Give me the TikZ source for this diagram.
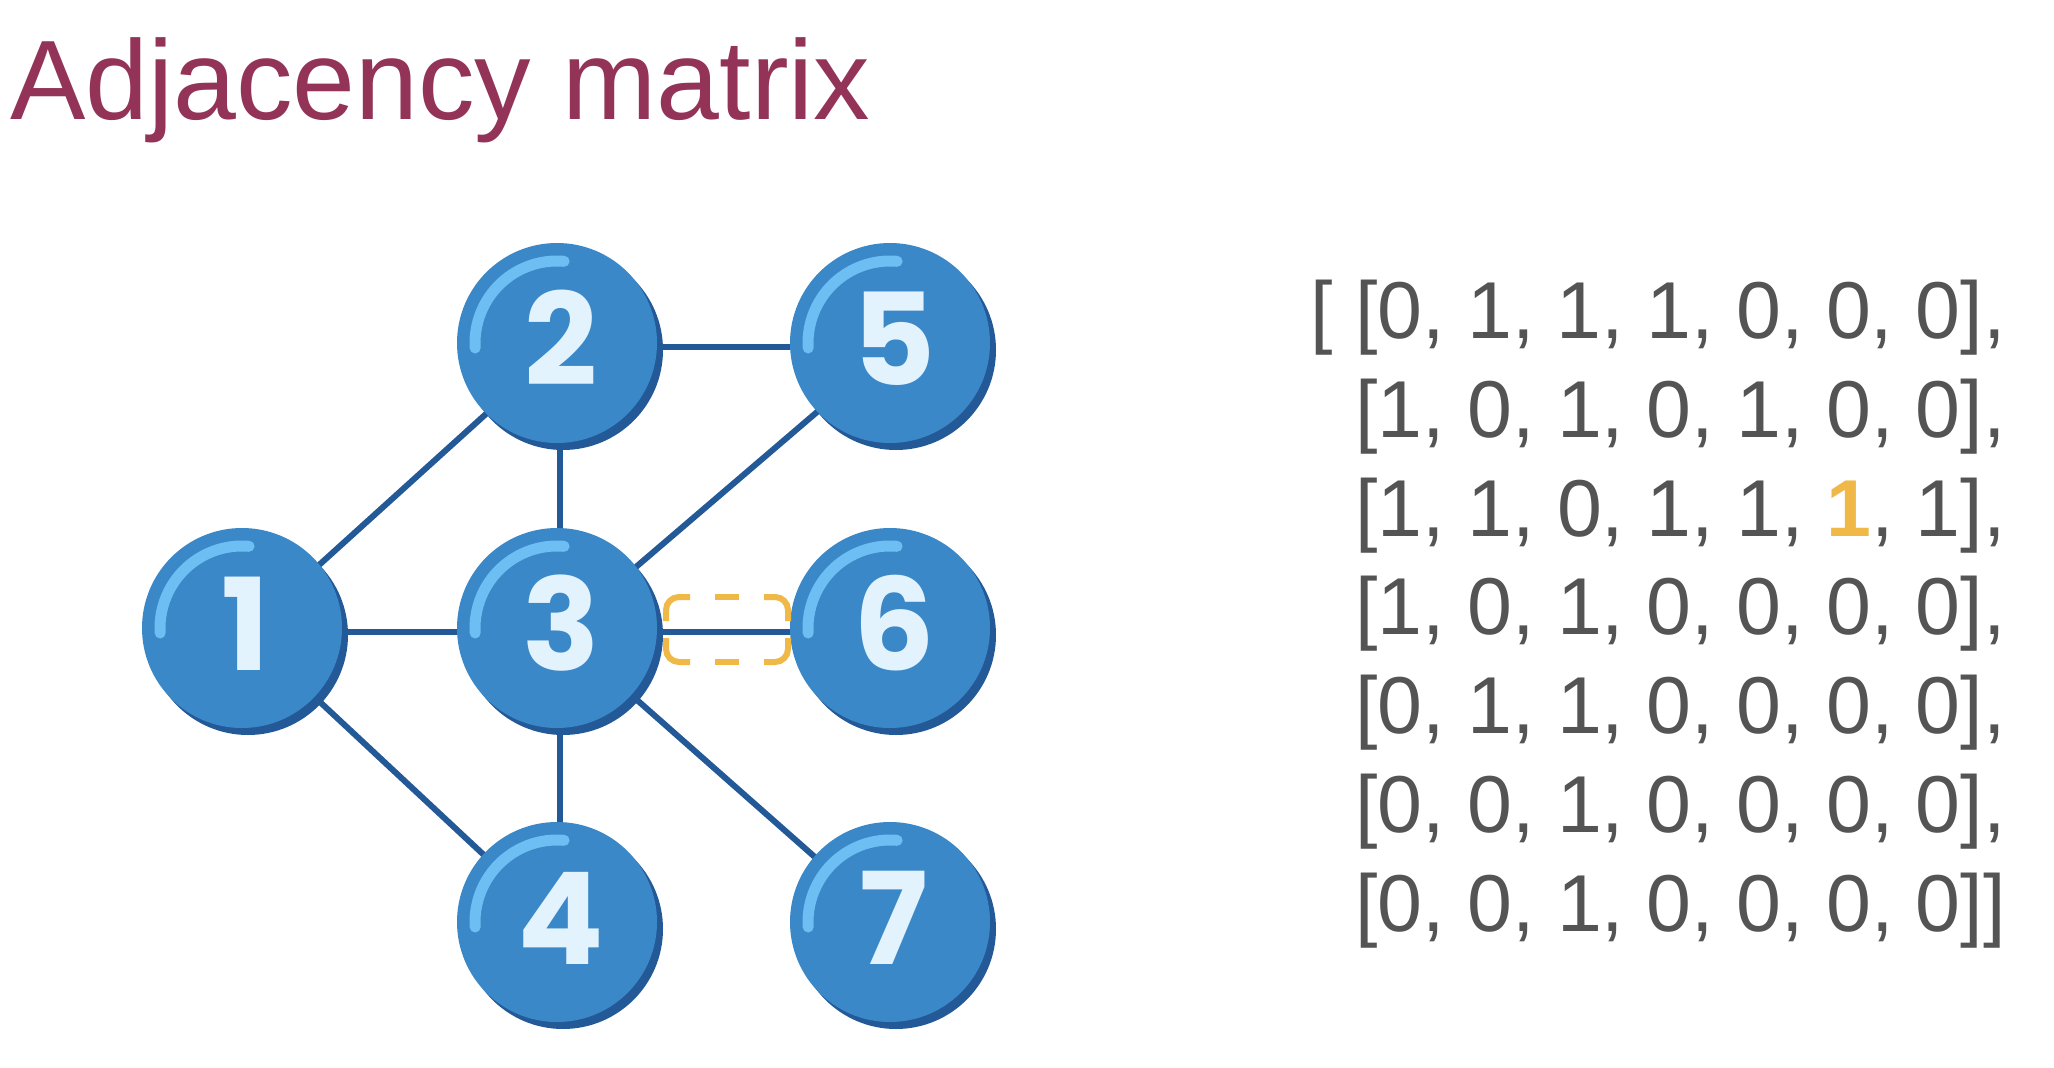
\documentclass[tikz,border=0pt]{standalone}
\usepackage{fontspec}
\setmainfont{Liberation Sans}
\newfontfamily\nodefont{Poppins}
\usetikzlibrary{shadows,backgrounds}
\definecolor{titlecol}{RGB}{147,51,88}
\definecolor{balldark}{RGB}{36,89,152}
\definecolor{ballmain}{RGB}{59,136,201}
\definecolor{ballhl}{RGB}{109,190,242}
\definecolor{digitcol}{RGB}{227,243,253}
\definecolor{orangehl}{RGB}{240,185,71}
\definecolor{matcol}{RGB}{84,84,84}
\tikzset{
  ball/.style={circle, minimum size=200pt, inner sep=0pt, fill=ballmain,
    general shadow={fill=balldark, shadow xshift=6pt, shadow yshift=-7pt}},
  edge/.style={draw=balldark, line width=6pt},
  shine/.style={draw=ballhl, line width=11pt, line cap=round},
  digit/.style={anchor=base, text=digitcol, font=\nodefont\bfseries\fontsize{128}{128}\selectfont, inner sep=0pt},
  matrow/.style={anchor=base west, inner sep=0pt, text=matcol, font=\fontsize{80.7}{80.7}\selectfont},
  dashpiece/.style={draw=orangehl, line width=6pt, rounded corners=13pt},
}
\begin{document}
\begin{tikzpicture}[x=1pt,y=-1pt]
\useasboundingbox (0,0) rectangle (2054,1068);
% title
\node[anchor=base west, inner sep=0pt, text=titlecol, font=\fontsize{113}{113}\selectfont] (title) at (10,119) {Adjacency matrix};
% balls
\node[ball] (n1) at (242,628) {};
\node[ball] (n2) at (557,343) {};
\node[ball] (n3) at (557,628) {};
\node[ball] (n4) at (557,922) {};
\node[ball] (n5) at (890,343) {};
\node[ball] (n6) at (890,628) {};
\node[ball] (n7) at (890,922) {};
% edges behind
\begin{pgfonlayer}{background}
\fill[white] (0,0) rectangle (2054,1068);
\foreach \a/\b in {n1/n2,n1/n3,n1/n4,n2/n3,n2/n5,n3/n4,n3/n5,n3/n6,n3/n7}{
  \draw[edge] ([shift={(3,4)}]\a.center) -- ([shift={(3,4)}]\b.center);
}
\end{pgfonlayer}
% shine arcs and digits
\foreach \n/\t in {n1/1,n2/2,n3/3,n4/4,n5/5,n6/6,n7/7}{
  \draw[shine] ([shift={(176.5:82)}]\n.center) arc[start angle=176.5, end angle=275, radius=82];
  \node[digit] (d\t) at ([shift={(4,42)}]\n.center) {\t};
}
% dashed highlight box around edge 3-6
\draw[dashpiece] (666,621) -- (666,597) -- (690,597);
\draw[dashpiece] (715,597) -- (739,597);
\draw[dashpiece] (764,597) -- (788,597) -- (788,621);
\draw[dashpiece] (788,638) -- (788,662) -- (764,662);
\draw[dashpiece] (739,662) -- (715,662);
\draw[dashpiece] (690,662) -- (666,662) -- (666,638);
% matrix
\node[matrow] (r1) at (1310,338) {[ [0, 1, 1, 1, 0, 0, 0],};
\node[matrow] (r2) at (1355,437) {[1, 0, 1, 0, 1, 0, 0],};
\node[matrow] (r3) at (1355,536) {[1, 1, 0, 1, 1, {\color{orangehl}\bfseries 1}, 1],};
\node[matrow] (r4) at (1355,634) {[1, 0, 1, 0, 0, 0, 0],};
\node[matrow] (r5) at (1355,733) {[0, 1, 1, 0, 0, 0, 0],};
\node[matrow] (r6) at (1355,832) {[0, 0, 1, 0, 0, 0, 0],};
\node[matrow] (r7) at (1355,931) {[0, 0, 1, 0, 0, 0, 0]]};
\end{tikzpicture}
\end{document}
